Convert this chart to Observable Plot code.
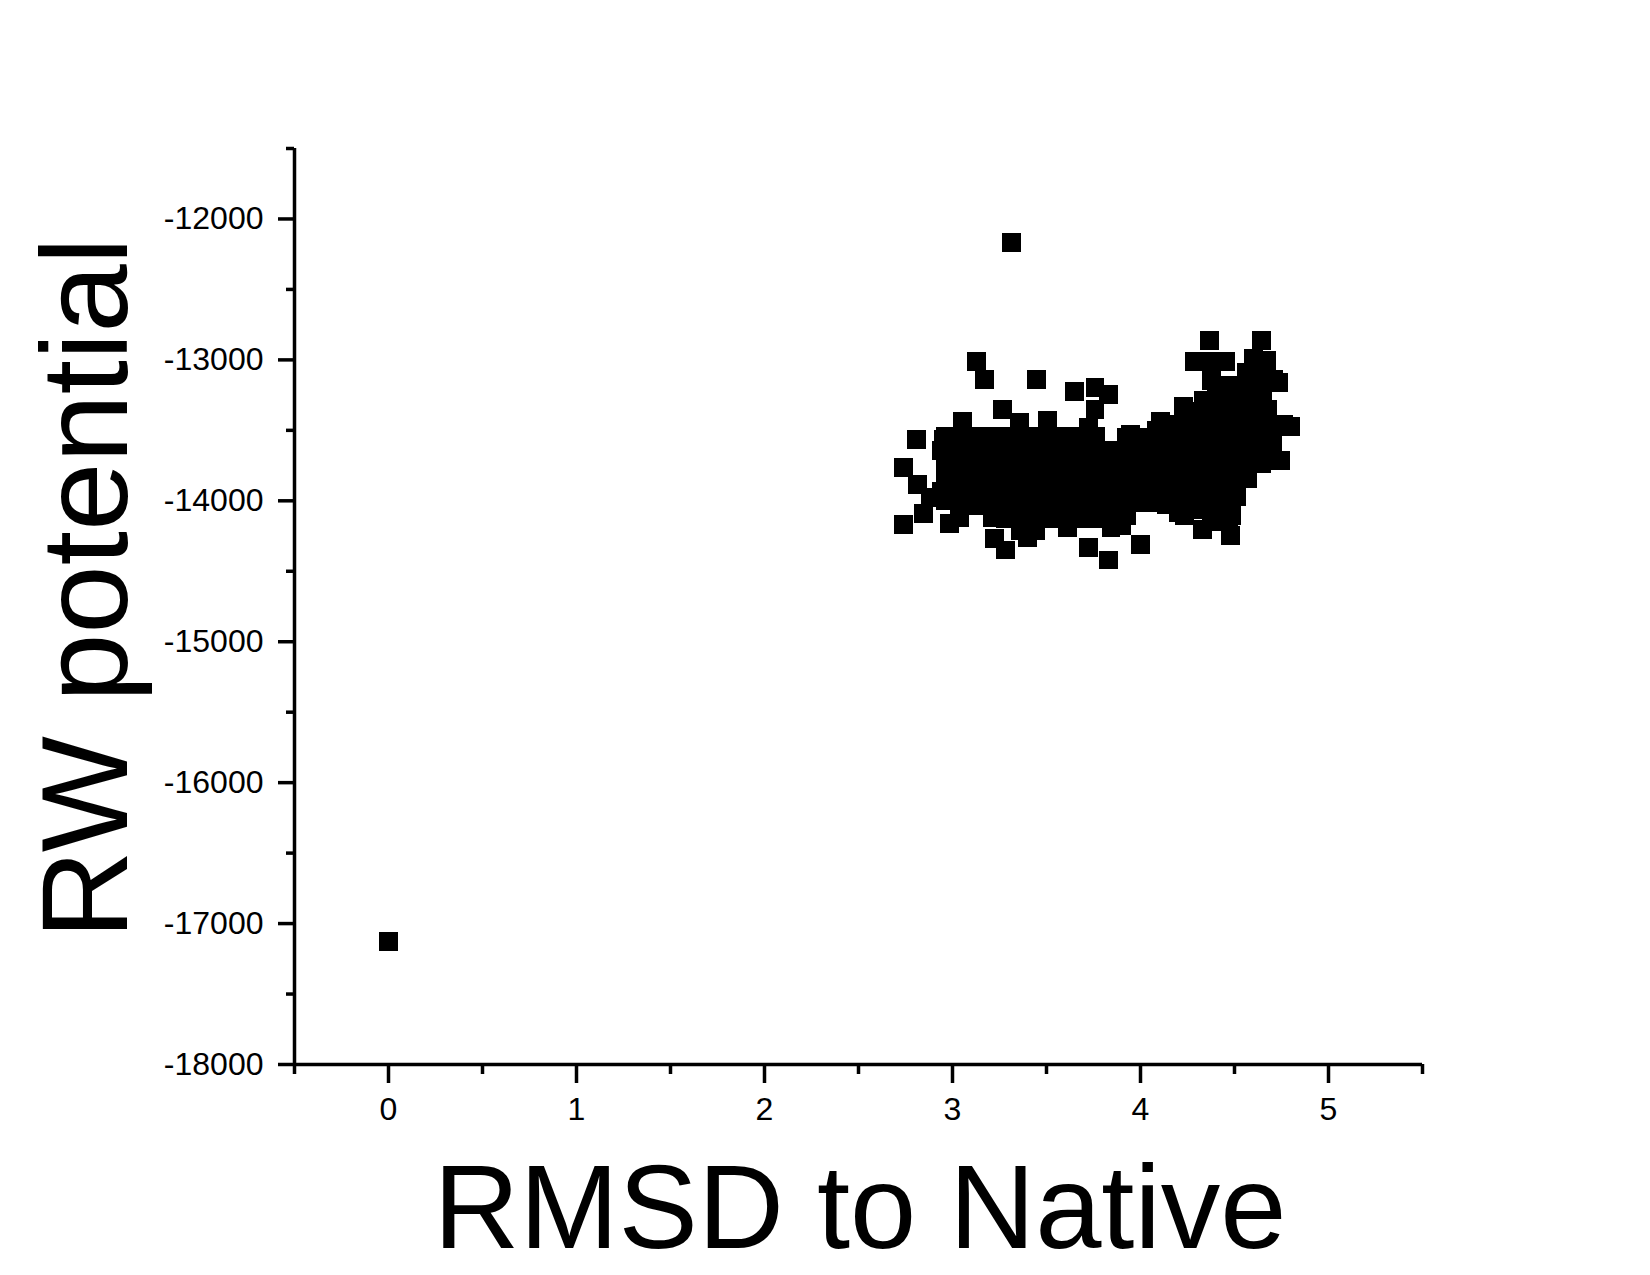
<!DOCTYPE html>
<html>
<head>
<meta charset="utf-8">
<script src="https://cdn.jsdelivr.net/npm/d3@7"></script>
<script src="https://cdn.jsdelivr.net/npm/@observablehq/plot@0.6"></script>
<style>
  html, body { margin: 0; padding: 0; background: #ffffff; }
  #chart { width: 1650px; height: 1275px; }
</style>
</head>
<body>
<div id="chart"></div>
<script>
// ---- data ----
const xLabel = "RMSD to Native";
const yLabel = "RW potential";
const xTickValues = [0, 1, 2, 3, 4, 5];
const xMinorTicks = [-0.5, 0.5, 1.5, 2.5, 3.5, 4.5, 5.5];
const yTickValues = [-18000, -17000, -16000, -15000, -14000, -13000, -12000];
const yMinorTicks = [-17500, -16500, -15500, -14500, -13500, -12500, -11500];

// native structure
const nativePoint = [[0, -17125]];
// isolated high decoy
const highDecoy = [[3.316, -12167]];
// decoys around the edges of the cloud
const decoyEdge = [
  [3.126,-13013],[3.169,-13141],[3.446,-13141],[3.649,-13226],[3.758,-13197],[3.830,-13247],
  [3.265,-13354],[2.806,-13567],[2.737,-13766],[2.812,-13887],[2.844,-14093],[2.737,-14171],
  [2.982,-14164],[3.222,-14270],[3.281,-14349],[3.398,-14263],[3.723,-14334],[3.036,-14121],
  [3.611,-14192],[3.830,-14420],[3.052,-13439],[2.950,-13567],[2.940,-13645],[3.505,-13432],
  [3.356,-13446],[3.723,-13482],[3.758,-13354],[2.881,-13979],[2.940,-13936],[3.212,-14121],
  [4.368,-12863],[4.646,-12863],[4.288,-13013],[4.390,-13013],[4.451,-13013],[4.603,-12991],
  [4.709,-13141],[4.379,-13144],[4.230,-13332],[4.336,-13290],[4.107,-13439],[3.947,-13531],
  [4.763,-13460],[4.747,-13716],[4.571,-13844],[4.510,-13972],[4.331,-14206],[4.480,-14249],
  [4.001,-14313],[4.203,-14086],[4.139,-14029],[3.950,-13961],[3.897,-14174],[4.670,-13002],
  [4.651,-13268],[4.677,-13354],[4.467,-14125],[4.233,-14103],[4.797,-13471],[4.733,-13158],
  [4.300,-14060],[4.380,-14150],[4.440,-14080]
];
// dense decoys, left lobe (RMSD about 2.9 - 3.8)
const decoyLeft = [
  [2.964,-13542],[2.964,-13641],[2.964,-13741],[2.964,-13840],[2.964,-13940],[2.964,-14000],
  [3.044,-13542],[3.044,-13641],[3.044,-13741],[3.044,-13840],[3.044,-13940],[3.044,-14020],
  [3.124,-13542],[3.124,-13641],[3.124,-13741],[3.124,-13840],[3.124,-13940],[3.124,-14032],
  [3.204,-13542],[3.204,-13641],[3.204,-13741],[3.204,-13840],[3.204,-13940],[3.204,-14032],
  [3.284,-13542],[3.284,-13641],[3.284,-13741],[3.284,-13840],[3.284,-13940],[3.284,-14032],[3.284,-14125],
  [3.364,-13542],[3.364,-13641],[3.364,-13741],[3.364,-13840],[3.364,-13940],[3.364,-14032],[3.364,-14125],[3.364,-14210],
  [3.443,-13542],[3.443,-13641],[3.443,-13741],[3.443,-13840],[3.443,-13940],[3.443,-14032],[3.443,-14125],[3.443,-14210],
  [3.523,-13542],[3.523,-13641],[3.523,-13741],[3.523,-13840],[3.523,-13940],[3.523,-14032],[3.523,-14125],
  [3.603,-13542],[3.603,-13641],[3.603,-13741],[3.603,-13840],[3.603,-13940],[3.603,-14032],[3.603,-14125],
  [3.683,-13542],[3.683,-13641],[3.683,-13741],[3.683,-13840],[3.683,-13940],[3.683,-14032],[3.683,-14125],
  [3.763,-13542],[3.763,-13641],[3.763,-13741],[3.763,-13840],[3.763,-13940],[3.763,-14032],[3.763,-14125]
];
// dense decoys, right lobe (RMSD about 3.8 - 4.8)
const decoyRight = [
  [3.843,-13641],[3.843,-13734],[3.843,-13826],[3.843,-13919],[3.843,-14011],[3.843,-14103],[3.843,-14189],
  [3.923,-13549],[3.923,-13641],[3.923,-13734],[3.923,-13826],[3.923,-13919],[3.923,-14011],[3.923,-14103],
  [4.003,-13549],[4.003,-13641],[4.003,-13734],[4.003,-13826],[4.003,-13919],[4.003,-14011],
  [4.083,-13499],[4.083,-13549],[4.083,-13641],[4.083,-13734],[4.083,-13826],[4.083,-13919],[4.083,-14011],
  [4.163,-13457],[4.163,-13549],[4.163,-13641],[4.163,-13734],[4.163,-13826],[4.163,-13919],[4.163,-14011],
  [4.243,-13457],[4.243,-13549],[4.243,-13641],[4.243,-13734],[4.243,-13826],[4.243,-13919],[4.243,-14011],
  [4.323,-13364],[4.323,-13457],[4.323,-13549],[4.323,-13641],[4.323,-13734],[4.323,-13826],[4.323,-13919],[4.323,-14011],
  [4.403,-13180],[4.403,-13272],[4.403,-13364],[4.403,-13457],[4.403,-13549],[4.403,-13641],[4.403,-13734],[4.403,-13826],[4.403,-13919],[4.403,-14011],[4.403,-14103],
  [4.483,-13180],[4.483,-13272],[4.483,-13364],[4.483,-13457],[4.483,-13549],[4.483,-13641],[4.483,-13734],[4.483,-13826],[4.483,-13919],[4.483,-14011],[4.483,-14103],
  [4.563,-13087],[4.563,-13180],[4.563,-13272],[4.563,-13364],[4.563,-13457],[4.563,-13549],[4.563,-13641],[4.563,-13734],[4.563,-13826],
  [4.643,-13002],[4.643,-13087],[4.643,-13180],[4.643,-13272],[4.643,-13364],[4.643,-13457],[4.643,-13549],[4.643,-13641],[4.643,-13734],
  [4.700,-13457],[4.700,-13549],[4.700,-13641]
];

const points = [...nativePoint, ...highDecoy, ...decoyEdge, ...decoyLeft, ...decoyRight];

const fmt = d => String(d);
const FONT = "'Liberation Sans', Arial, sans-serif";

const svg = Plot.plot({
  width: 1650,
  height: 1275,
  marginLeft: 294,
  marginRight: 228,
  marginTop: 148,
  marginBottom: 211,
  style: {
    fontFamily: FONT,
    fontSize: "32px",
    color: "#000",
    background: "#fff"
  },
  x: { domain: [-0.5, 5.5] },
  y: { domain: [-18000, -11500] },
  marks: [
    Plot.axisY({ ticks: yTickValues, tickSize: 16, tickPadding: 15, strokeWidth: 3.5,
                 fontSize: 32, tickFormat: fmt, label: null }),
    Plot.axisY({ ticks: yMinorTicks, tickSize: 8, strokeWidth: 3.5, text: null, label: null }),
    Plot.axisX({ ticks: xTickValues, tickSize: 19, tickPadding: 14, strokeWidth: 3.5,
                 fontSize: 32, tickFormat: fmt, label: null }),
    Plot.axisX({ ticks: xMinorTicks, tickSize: 10, strokeWidth: 3.5, text: null, label: null }),
    Plot.ruleX([-0.5], { stroke: "#000", strokeWidth: 3.5 }),
    Plot.ruleY([-18000], { stroke: "#000", strokeWidth: 3.5 }),
    Plot.dot(points, { x: d => d[0], y: d => d[1], symbol: "square", r: 10.7,
                       fill: "#000", shapeRendering: "crispEdges" })
  ]
});

const s = d3.select(svg);
s.append("text")
  .attr("x", 860).attr("y", 1248)
  .attr("text-anchor", "middle")
  .attr("font-size", 119)
  .attr("fill", "#000")
  .attr("font-family", FONT)
  .text(xLabel);
s.append("text")
  .attr("transform", "translate(127,588) rotate(-90)")
  .attr("text-anchor", "middle")
  .attr("font-size", 123)
  .attr("fill", "#000")
  .attr("font-family", FONT)
  .text(yLabel);

document.getElementById("chart").appendChild(svg);
</script>
</body>
</html>
